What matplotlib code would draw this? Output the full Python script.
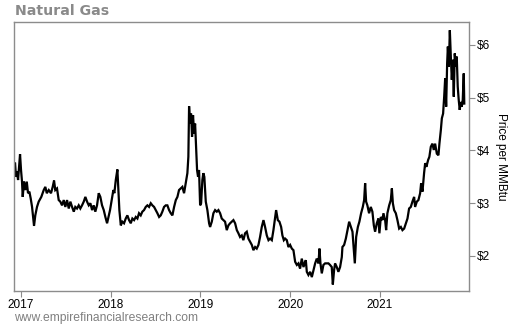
import matplotlib.pyplot as plt

# natural gas price (x in decimal years)
years = [
    2016.922, 2016.933, 2016.944, 2016.955, 2016.967, 2016.974, 2016.989, 2017.000, 2017.011, 2017.019,
    2017.033, 2017.048, 2017.064, 2017.078, 2017.093, 2017.108, 2017.123, 2017.134, 2017.145, 2017.159,
    2017.178, 2017.197, 2017.226, 2017.253, 2017.271, 2017.287, 2017.309, 2017.334, 2017.353, 2017.368,
    2017.382, 2017.401, 2017.420, 2017.438, 2017.457, 2017.476, 2017.494, 2017.513, 2017.532, 2017.550,
    2017.569, 2017.588, 2017.605, 2017.624, 2017.643, 2017.661, 2017.680, 2017.699, 2017.717, 2017.736,
    2017.755, 2017.773, 2017.792, 2017.810, 2017.828, 2017.847, 2017.866, 2017.884, 2017.903, 2017.922,
    2017.940, 2017.959, 2017.992, 2018.011, 2018.029, 2018.040, 2018.056, 2018.074, 2018.085, 2018.096,
    2018.112, 2018.129, 2018.148, 2018.167, 2018.185, 2018.204, 2018.223, 2018.241, 2018.260, 2018.279,
    2018.297, 2018.315, 2018.334, 2018.352, 2018.371, 2018.390, 2018.408, 2018.427, 2018.446, 2018.464,
    2018.483, 2018.502, 2018.520, 2018.539, 2018.557, 2018.575, 2018.594, 2018.613, 2018.631, 2018.650,
    2018.669, 2018.687, 2018.706, 2018.725, 2018.743, 2018.761, 2018.780, 2018.798, 2018.817, 2018.836,
    2018.854, 2018.865, 2018.873, 2018.884, 2018.895, 2018.906, 2018.917, 2018.929, 2018.940, 2018.951,
    2018.962, 2018.973, 2018.984, 2018.996, 2019.007, 2019.021, 2019.032, 2019.043, 2019.059, 2019.077,
    2019.096, 2019.107, 2019.126, 2019.144, 2019.163, 2019.182, 2019.200, 2019.219, 2019.237, 2019.255,
    2019.274, 2019.293, 2019.311, 2019.330, 2019.349, 2019.367, 2019.386, 2019.405, 2019.423, 2019.441,
    2019.460, 2019.478, 2019.497, 2019.516, 2019.534, 2019.553, 2019.572, 2019.590, 2019.609, 2019.627,
    2019.646, 2019.664, 2019.683, 2019.702, 2019.720, 2019.739, 2019.758, 2019.776, 2019.795, 2019.813,
    2019.832, 2019.843, 2019.862, 2019.880, 2019.899, 2019.913, 2019.929, 2019.943, 2019.962, 2019.980,
    2019.999, 2020.018, 2020.036, 2020.055, 2020.074, 2020.092, 2020.110, 2020.129, 2020.148, 2020.166,
    2020.174, 2020.185, 2020.203, 2020.222, 2020.241, 2020.259, 2020.278, 2020.296, 2020.315, 2020.326,
    2020.337, 2020.352, 2020.370, 2020.389, 2020.408, 2020.426, 2020.444, 2020.463, 2020.475, 2020.489,
    2020.500, 2020.519, 2020.537, 2020.556, 2020.575, 2020.582, 2020.601, 2020.620, 2020.638, 2020.657,
    2020.676, 2020.694, 2020.709, 2020.720, 2020.735, 2020.754, 2020.771, 2020.790, 2020.809, 2020.824,
    2020.835, 2020.846, 2020.860, 2020.879, 2020.898, 2020.916, 2020.932, 2020.946, 2020.965, 2020.983,
    2020.994, 2021.010, 2021.028, 2021.039, 2021.058, 2021.069, 2021.083, 2021.103, 2021.121, 2021.133,
    2021.144, 2021.158, 2021.177, 2021.195, 2021.214, 2021.233, 2021.251, 2021.270, 2021.289, 2021.307,
    2021.325, 2021.344, 2021.362, 2021.381, 2021.392, 2021.411, 2021.429, 2021.448, 2021.459, 2021.474,
    2021.492, 2021.504, 2021.518, 2021.537, 2021.551, 2021.567, 2021.585, 2021.600, 2021.615, 2021.634,
    2021.652, 2021.663, 2021.679, 2021.690, 2021.704, 2021.716, 2021.727, 2021.738, 2021.749, 2021.757,
    2021.768, 2021.779, 2021.790, 2021.801, 2021.812, 2021.823, 2021.834, 2021.845, 2021.856, 2021.867,
    2021.878, 2021.889, 2021.901, 2021.912, 2021.923, 2021.934, 2021.940,
]
prices = [
    3.64, 3.77, 3.50, 3.60, 3.44, 3.60, 3.93, 3.63, 3.41, 3.12,
    3.41, 3.25, 3.41, 3.19, 3.22, 3.09, 2.93, 2.74, 2.57, 2.77,
    2.93, 3.03, 3.12, 3.25, 3.31, 3.19, 3.25, 3.19, 3.31, 3.43,
    3.25, 3.28, 3.06, 3.03, 2.96, 3.06, 2.93, 3.06, 2.90, 3.03,
    2.93, 2.84, 2.93, 2.90, 2.96, 2.90, 2.96, 3.03, 3.12, 3.03,
    2.96, 3.00, 2.87, 2.96, 2.84, 2.96, 3.19, 3.12, 2.96, 2.87,
    2.74, 2.62, 2.87, 3.06, 3.25, 3.19, 3.44, 3.64, 3.25, 2.87,
    2.58, 2.65, 2.62, 2.71, 2.77, 2.68, 2.62, 2.71, 2.68, 2.74,
    2.71, 2.81, 2.77, 2.84, 2.87, 2.93, 2.96, 2.93, 3.00, 2.96,
    2.93, 2.87, 2.81, 2.74, 2.77, 2.84, 2.93, 2.96, 2.96, 2.87,
    2.81, 2.77, 2.93, 3.06, 3.12, 3.25, 3.28, 3.31, 3.19, 3.38,
    3.57, 3.88, 4.84, 4.51, 4.70, 4.26, 4.67, 4.32, 4.51, 4.07,
    3.63, 3.50, 3.63, 2.96, 3.00, 3.44, 3.57, 3.50, 3.03, 2.87,
    2.62, 2.55, 2.65, 2.81, 2.87, 2.84, 2.87, 2.81, 2.71, 2.68,
    2.65, 2.49, 2.58, 2.62, 2.65, 2.68, 2.62, 2.49, 2.43, 2.36,
    2.39, 2.30, 2.43, 2.46, 2.33, 2.27, 2.21, 2.11, 2.17, 2.14,
    2.21, 2.36, 2.55, 2.68, 2.55, 2.39, 2.30, 2.33, 2.30, 2.49,
    2.74, 2.87, 2.68, 2.65, 2.55, 2.39, 2.30, 2.33, 2.30, 2.17,
    2.21, 2.14, 2.11, 1.89, 1.83, 1.86, 1.76, 1.95, 1.79, 1.89,
    1.92, 1.70, 1.64, 1.70, 1.60, 1.73, 1.86, 1.95, 1.86, 2.14,
    1.86, 1.67, 1.83, 1.86, 1.86, 1.86, 1.83, 1.79, 1.46, 1.73,
    1.86, 1.79, 1.70, 1.79, 1.98, 2.17, 2.21, 2.33, 2.49, 2.65,
    2.55, 2.46, 2.11, 1.86, 2.36, 2.55, 2.65, 2.81, 2.93, 3.06,
    3.38, 3.03, 2.96, 2.81, 2.93, 2.84, 2.58, 2.46, 2.62, 2.71,
    2.43, 2.74, 2.68, 2.81, 2.68, 2.49, 2.81, 2.96, 3.06, 3.28,
    3.00, 2.87, 2.81, 2.68, 2.52, 2.55, 2.49, 2.52, 2.62, 2.71,
    2.90, 2.93, 3.03, 3.12, 2.93, 3.03, 3.06, 3.19, 3.38, 3.22,
    3.57, 3.76, 3.69, 3.82, 3.88, 4.07, 4.13, 4.01, 4.13, 3.94,
    3.91, 4.13, 4.39, 4.61, 4.70, 5.02, 5.37, 4.83, 5.65, 5.97,
    5.59, 6.28, 5.78, 5.34, 5.72, 5.02, 5.84, 5.59, 5.78, 5.21,
    4.96, 4.77, 4.92, 4.83, 4.96, 5.46, 4.89,
]

year_ticks = [2017, 2018, 2019, 2020, 2021]
price_ticks = [2, 3, 4, 5, 6]

frame_col = "#8c8c8c"

fig = plt.figure(figsize=(5.1, 3.25), dpi=100)
ax = fig.add_axes([0.0275, 0.1046, 0.892, 0.8277])

ax.plot(years, prices, color="black", lw=1.6, solid_joinstyle="miter")

ax.set_xlim(2016.922, 2021.992)
ax.set_ylim(1.336, 6.436)

ax.set_xticks(year_ticks)
ax.set_xticklabels([str(y) for y in year_ticks], fontfamily="Liberation Sans", fontsize=8.5)
ax.set_yticks(price_ticks)
ax.set_yticklabels(["$%d" % p for p in price_ticks], fontfamily="Liberation Sans", fontsize=8.5)
ax.yaxis.tick_right()
ax.yaxis.set_label_position("right")
ax.tick_params(axis="both", color=frame_col, length=4, width=0.8, pad=2)

for s in ax.spines.values():
    s.set_color(frame_col)
    s.set_linewidth(1.0)

ax.set_ylabel("Price per MMBtu", rotation=270, labelpad=12,
              fontfamily="Liberation Sans", fontsize=8.5)

fig.text(0.0285, 0.965, "Natural Gas", fontsize=10.2, fontweight="bold",
         color="#8a8a8a", va="center", ha="left")
fig.text(0.027, 0.022, "www.empirefinancialresearch.com", fontsize=8.7,
         fontfamily="Liberation Sans", color="#808080", va="center", ha="left")

fig.savefig("out.png", dpi=100)
